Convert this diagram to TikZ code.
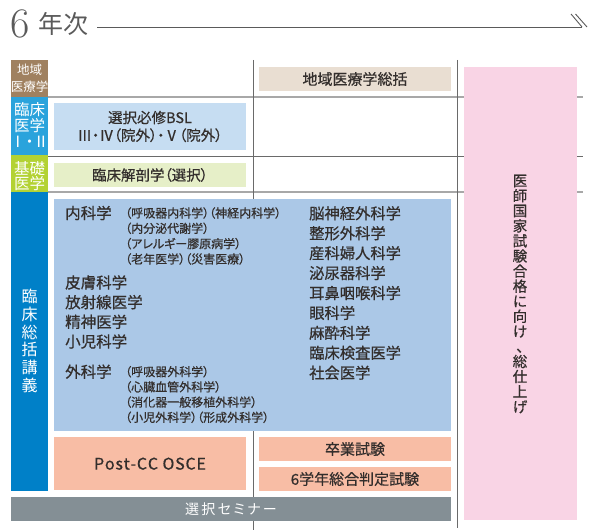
\documentclass[tikz,border=0pt]{standalone}
\usepackage{fontspec}
\setmainfont{Noto Sans CJK JP}[RawFeature=+palt, FakeBold=0.6]
\newfontfamily\lightjp{Noto Sans CJK JP}[RawFeature=+palt]
\newfontfamily\lmr{Latin Modern Roman}
\definecolor{txt}{HTML}{332E2C}
\definecolor{titlegray}{HTML}{5A5A5A}
\definecolor{cbrown}{HTML}{A08160}
\definecolor{ccyan}{HTML}{2AA3DC}
\definecolor{cgreen}{HTML}{B3D233}
\definecolor{cblue}{HTML}{0080C8}
\definecolor{fchiiki}{HTML}{E9DED2}
\definecolor{fbsl}{HTML}{C6DDF2}
\definecolor{fkaibo}{HTML}{E6EFC8}
\definecolor{fbig}{HTML}{ABC8E7}
\definecolor{fsalmon}{HTML}{F8BDA5}
\definecolor{fgray}{HTML}{848F95}
\definecolor{fpink}{HTML}{F9D4E5}
\definecolor{glight}{HTML}{A8A8A8}
\definecolor{gdark}{HTML}{6A6A6A}
\begin{document}
\begin{tikzpicture}[x=1bp,y=-1bp,
  fillbox/.style={inner sep=0pt, outer sep=0pt, text=txt, align=center},
  sidelab/.style={inner sep=0pt, text=white, align=center},
  gridthick/.style={draw=glight, line width=1.6bp},
  gridthin/.style={draw=gdark, line width=0.9bp},
  vline/.style={draw=gdark, line width=1bp},
  titleline/.style={draw=titlegray, line width=0.9bp},
  bigtxt/.style={inner sep=0pt, text=txt, align=left, anchor=west},
]
\useasboundingbox (0,0) rectangle (590,530);

% title
\node[anchor=base west, inner sep=0pt, text=titlegray, font=\lmr\fontsize{42bp}{42bp}\selectfont] (six) at (10,38) {6};
\node[anchor=base west, inner sep=0pt, text=titlegray, font=\lightjp\fontsize{25bp}{25bp}\selectfont] (nenji) at (38.5,33.5) {年次};
\coordinate (tl0) at (97,27);
\coordinate (tl1) at (582,27);
\coordinate (sa0) at (571,14);
\coordinate (sa1) at (582,27);
\coordinate (sb0) at (575.5,14);
\coordinate (sb1) at (587,27);
\draw[titleline] (tl0) -- (tl1);
\draw[titleline] (sa0) -- (sa1);
\draw[titleline] (sb0) -- (sb1);

% grid lines
\coordinate (h1a) at (48,97);  \coordinate (h1b) at (583,97);
\coordinate (h2a) at (48,156); \coordinate (h2b) at (583,156);
\coordinate (h3a) at (48,192); \coordinate (h3b) at (583,192);
\coordinate (v1a) at (253,60); \coordinate (v1b) at (253,530);
\coordinate (v2a) at (457.5,60); \coordinate (v2b) at (457.5,528);
\draw[gridthick] (h1a) -- (h1b);
\draw[gridthin] (h2a) -- (h2b);
\draw[gridthick] (h3a) -- (h3b);
\draw[vline] (v1a) -- (v1b);
\draw[vline] (v2a) -- (v2b);

% left column
\node[sidelab, fill=cbrown, minimum width=37bp, minimum height=37bp, anchor=north west] (cbrownbox) at (11,60) {};
\node[sidelab, fill=ccyan, minimum width=37bp, minimum height=58.5bp, anchor=north west] (ccyanbox) at (11,96.8) {};
\node[sidelab, fill=cgreen, minimum width=37bp, minimum height=37bp, anchor=north west] (cgreenbox) at (11,155) {};
\node[sidelab, fill=cblue, minimum width=37bp, minimum height=299bp, anchor=north west] (cbluebox) at (11,191.8) {};
\node[sidelab, font=\lightjp\fontsize{12.5bp}{16.5bp}\selectfont] (t1) at (29.5,78.5) {地域\\医療学};
\node[sidelab, font=\lightjp\fontsize{15.5bp}{16bp}\selectfont] (t2) at (29.5,124.5) {臨床\\医学\\Ⅰ・Ⅱ};
\node[sidelab, font=\lightjp\fontsize{15.5bp}{15bp}\selectfont] (t3) at (29.5,176) {基礎\\医学};
\node[sidelab, font=\lightjp\fontsize{16bp}{17.8bp}\selectfont] (t4) at (29.5,341) {臨\\床\\総\\括\\講\\義};

% boxes
\node[fillbox, fill=fchiiki, minimum width=192bp, minimum height=24bp, font=\fontsize{15bp}{15bp}\selectfont] (chiiki) at (355,79) {地域医療学総括};
\node[fillbox, fill=fbsl, minimum width=192bp, minimum height=47bp, font=\fontsize{14.5bp}{17.7bp}\selectfont] (bsl) at (150,126.5) {選択必修BSL\\Ⅲ・Ⅳ（院外）・Ⅴ（院外）};
\node[fillbox, fill=fkaibo, minimum width=192bp, minimum height=24bp, font=\fontsize{14.5bp}{15bp}\selectfont] (kaibo) at (150,175) {臨床解剖学（選択）};
\node[fillbox, fill=fbig, minimum width=397bp, minimum height=232bp, anchor=north west] (big) at (54,199) {};
\node[fillbox, fill=fsalmon, minimum width=192bp, minimum height=53.5bp, font=\fontsize{16bp}{16bp}\selectfont] (postcc) at (150,463.7) {P\kern.8bp o\kern.8bp s\kern.8bp t\kern.8bp -\kern.8bp C\kern.8bp C\kern.8bp\ O\kern.8bp S\kern.8bp C\kern.8bp E};
\node[fillbox, fill=fsalmon, minimum width=192bp, minimum height=24bp, font=\fontsize{15bp}{15bp}\selectfont] (sotsu) at (355,449) {卒業試験};
\node[fillbox, fill=fsalmon, minimum width=192bp, minimum height=24bp, font=\fontsize{15bp}{15bp}\selectfont] (hantei) at (355,479) {6学年総合判定試験};
\node[fillbox, fill=fgray, text=white, minimum width=440bp, minimum height=23.4bp, font=\lightjp\fontsize{14bp}{14bp}\selectfont] (seminar) at (231,509) {選\,択\,セ\,ミ\,ナ\,ー};
\node[fillbox, fill=fpink, minimum width=113bp, minimum height=453bp] (pink) at (520.5,293.5) {};
\node[fillbox, font=\fontsize{14.5bp}{15.07bp}\selectfont] (pinktxt) at (520,294) {医\\師\\国\\家\\試\\験\\合\\格\\に\\向\\け\\、\\総\\仕\\上\\げ};

% contents of the large box
\node[bigtxt, font=\fontsize{15.5bp}{15bp}\selectfont] (naika) at (65,213) {内科学};
\node[bigtxt, font=\fontsize{12bp}{15.33bp}\selectfont] (naikasub) at (125,236) {（呼吸器内科学）（神経内科学）\\（内分泌代謝学）\\（アレルギー膠原病学）\\（老年医学）（災害医療）};
\node[bigtxt, font=\fontsize{15.5bp}{19.67bp}\selectfont] (mid) at (65,312) {皮膚科学\\放射線医学\\精神医学\\小児科学};
\node[bigtxt, font=\fontsize{15.5bp}{15bp}\selectfont] (geka) at (65,371.7) {外科学};
\node[bigtxt, font=\fontsize{12bp}{15.2bp}\selectfont] (gekasub) at (125,394.5) {（呼吸器外科学）\\（心臓血管外科学）\\（消化器一般移植外科学）\\（小児外科学）（形成外科学）};
\node[bigtxt, font=\fontsize{15.3bp}{19.93bp}\selectfont] (right) at (309,293) {脳神経外科学\\整形外科学\\産科婦人科学\\泌尿器科学\\耳鼻咽喉科学\\眼科学\\麻酔科学\\臨床検査医学\\社会医学};
\end{tikzpicture}
\end{document}
